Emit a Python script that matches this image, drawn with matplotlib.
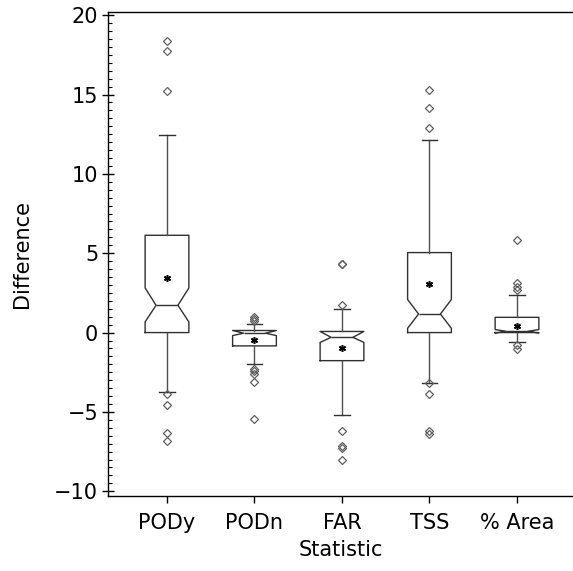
import matplotlib
matplotlib.use("Agg")
import matplotlib.pyplot as plt
from matplotlib.ticker import MultipleLocator, FixedLocator

plt.rcParams['font.family'] = ['DejaVu Sans']

# Summary statistics of the differences for each verification statistic
labels = ["PODy", "PODn", "FAR", "TSS", "% Area"]
q1 = [0.0, -0.84, -1.77, 0.0, 0.0]
med = [1.72, -0.04, -0.30, 1.17, 0.08]
q3 = [6.13, 0.13, 0.07, 5.04, 0.96]
cilo = [0.67, -0.19, -0.62, 0.27, -0.03]
cihi = [2.81, 0.13, 0.07, 2.08, 0.19]
whislo = [-3.76, -1.98, -5.17, -3.15, -0.62]
whishi = [12.43, 0.52, 1.49, 12.12, 2.37]
means = [3.42, -0.49, -0.95, 3.04, 0.43]
fliers = [
    [18.36, 17.73, 15.22, -3.89, -4.54, -6.33, -6.85],
    [0.96, 0.84, 0.71, -2.31, -2.44, -2.58, -3.09, -5.46],
    [4.30, 4.35, 1.76, -6.18, -7.15, -7.28, -8.06],
    [15.30, 14.15, 12.92, -3.18, -3.87, -6.22, -6.37],
    [5.86, 3.13, 2.87, 2.66, -0.80, -1.01],
]
yticks = [-10, -5, 0, 5, 10, 15, 20]

stats = []
for i, lab in enumerate(labels):
    stats.append(dict(label=lab, q1=q1[i], med=med[i], q3=q3[i],
                      cilo=cilo[i], cihi=cihi[i], whislo=whislo[i],
                      whishi=whishi[i], mean=means[i], fliers=fliers[i]))

fig = plt.figure(figsize=(5.73, 5.71), dpi=100)
ax = fig.add_axes([0.1885, 0.1313, 0.8115, 0.8477])

positions = list(range(1, len(labels) + 1))
ax.bxp(stats, positions=positions, widths=0.5, capwidths=0.18,
       shownotches=True, showmeans=True, showfliers=True,
       boxprops=dict(color='#303030', linewidth=1.0),
       whiskerprops=dict(color='#505050', linewidth=1.0),
       capprops=dict(color='#303030', linewidth=1.0),
       medianprops=dict(color='#303030', linewidth=1.0),
       meanprops=dict(marker=(6, 2, 0), markerfacecolor='black',
                      markeredgecolor='black', markersize=5,
                      markeredgewidth=1.1),
       flierprops=dict(marker='D', markerfacecolor='none',
                       markeredgecolor='#606060', markersize=4.2,
                       markeredgewidth=0.9))

ax.set_xlim(0.326, 5.64)
ax.set_ylim(-10.3, 20.2)

ax.yaxis.set_major_locator(FixedLocator(yticks))
ax.set_yticklabels([str(t).replace('-', '\u2212') for t in yticks])
ax.yaxis.set_minor_locator(MultipleLocator(0.5))
ax.set_xticks(positions)
ax.set_xticklabels(labels)

ax.tick_params(axis='y', which='major', direction='inout', length=8,
               width=1.0, labelsize=15, pad=3)
ax.tick_params(axis='y', which='minor', direction='in', length=3,
               width=0.8)
ax.tick_params(axis='x', which='major', direction='out', length=5,
               width=1.0, labelsize=15, pad=7)

ax.spines['right'].set_visible(False)
for s in ['left', 'top', 'bottom']:
    ax.spines[s].set_linewidth(1.0)
    ax.spines[s].set_color('black')

ax.set_xlabel("Statistic", fontsize=15, labelpad=5)
ax.set_ylabel("Difference", fontsize=15, labelpad=16)

fig.savefig("out.png", dpi=100)
